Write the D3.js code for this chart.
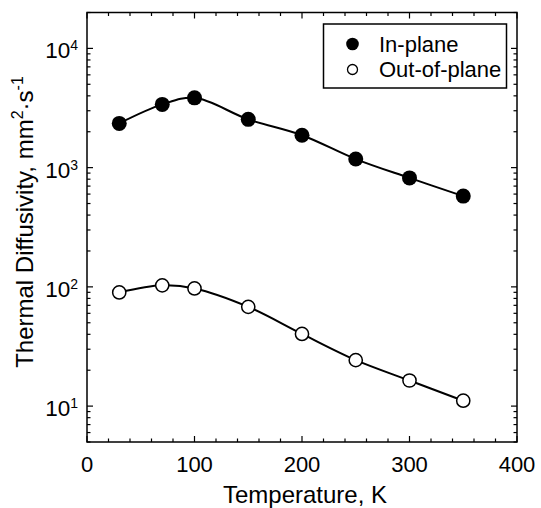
<!DOCTYPE html>
<html>
<head>
<meta charset="utf-8">
<script src="https://cdn.jsdelivr.net/npm/d3@7/dist/d3.min.js"></script>
<style>
  html, body { margin: 0; padding: 0; background: #fff; }
  svg { display: block; font-family: "Liberation Sans", Arial, Helvetica, sans-serif; }
</style>
</head>
<body>
<svg id="chart" width="541" height="508"></svg>
<script>
// Thermal diffusivity vs temperature, in-plane and out-of-plane
const temperature = [30, 70, 100, 150, 200, 250, 300, 350];
const inPlane = [2350, 3390, 3850, 2540, 1870, 1180, 820, 577];
const outOfPlane = [89.8, 103, 97, 68, 40.3, 24.3, 16.4, 11.1];

const xMajorTicks = [0, 100, 200, 300, 400];
const xMinorTicks = d3.range(0, 401, 20);
const yMajorExponents = [1, 2, 3, 4];
const seriesNames = ["In-plane", "Out-of-plane"];

const svg = d3.select("#chart");
const plot = { left: 87, right: 517, top: 12.5, bottom: 442 };

const x = d3.scaleLinear().domain([0, 400]).range([plot.left, plot.right]);
const y = d3.scaleLog().domain([5, 20000]).range([plot.bottom, plot.top]);

// Frame
svg.append("rect")
  .attr("x", plot.left).attr("y", plot.top)
  .attr("width", plot.right - plot.left).attr("height", plot.bottom - plot.top)
  .attr("fill", "none").attr("stroke", "#000").attr("stroke-width", 1.5);

const ticks = svg.append("g").attr("stroke", "#000").attr("stroke-width", 1.2);

// x ticks (bottom + top, pointing inward)
xMinorTicks.forEach(v => {
  const len = xMajorTicks.includes(v) ? 6 : 3.5;
  ticks.append("line").attr("x1", x(v)).attr("x2", x(v))
    .attr("y1", plot.bottom).attr("y2", plot.bottom - len);
  ticks.append("line").attr("x1", x(v)).attr("x2", x(v))
    .attr("y1", plot.top).attr("y2", plot.top + len);
});

// y ticks (left + right, pointing inward)
y.ticks().forEach(v => {
  const major = yMajorExponents.some(e => Math.abs(Math.pow(10, e) - v) < 1e-6);
  const len = major ? 6 : 3.5;
  ticks.append("line").attr("x1", plot.left).attr("x2", plot.left + len)
    .attr("y1", y(v)).attr("y2", y(v));
  ticks.append("line").attr("x1", plot.right).attr("x2", plot.right - len)
    .attr("y1", y(v)).attr("y2", y(v));
});

// x tick labels
svg.append("g").selectAll("text").data(xMajorTicks).join("text")
  .attr("x", d => x(d)).attr("y", 472)
  .attr("text-anchor", "middle").attr("font-size", 22)
  .text(d => d);

// y tick labels as powers of ten
const yl = svg.append("g").selectAll("text").data(yMajorExponents).join("text")
  .attr("x", 78).attr("y", d => y(Math.pow(10, d)) + 10)
  .attr("text-anchor", "end").attr("font-size", 22.5);
yl.append("tspan").text("10");
yl.append("tspan").attr("font-size", 14).attr("dy", -8).text(d => d);

// Axis titles
svg.append("text")
  .attr("x", 305).attr("y", 503)
  .attr("text-anchor", "middle").attr("font-size", 24)
  .text("Temperature, K");

const yt = svg.append("text")
  .attr("transform", "translate(33,222) rotate(-90)")
  .attr("text-anchor", "middle").attr("font-size", 24);
yt.append("tspan").text("Thermal Diffusivity, mm");
yt.append("tspan").attr("font-size", 16).attr("dy", -10).text("2");
yt.append("tspan").attr("dy", 10).text("·s");
yt.append("tspan").attr("font-size", 16).attr("dy", -10).text("-1");

// Curves through the data
const line = d3.line()
  .x(d => x(d[0])).y(d => y(d[1]))
  .curve(d3.curveCatmullRom.alpha(0.5));

const inPts = temperature.map((t, i) => [t, inPlane[i]]);
const outPts = temperature.map((t, i) => [t, outOfPlane[i]]);

svg.append("path").attr("d", line(inPts))
  .attr("fill", "none").attr("stroke", "#000").attr("stroke-width", 2);
svg.append("path").attr("d", line(outPts))
  .attr("fill", "none").attr("stroke", "#000").attr("stroke-width", 2);

// Markers
svg.append("g").selectAll("circle").data(inPts).join("circle")
  .attr("cx", d => x(d[0])).attr("cy", d => y(d[1]))
  .attr("r", 7.5).attr("fill", "#000");
svg.append("g").selectAll("circle").data(outPts).join("circle")
  .attr("cx", d => x(d[0])).attr("cy", d => y(d[1]))
  .attr("r", 6.6).attr("fill", "#fff").attr("stroke", "#000").attr("stroke-width", 1.5);

// Legend
const lg = svg.append("g");
lg.append("rect").attr("x", 323.5).attr("y", 24).attr("width", 183).attr("height", 64)
  .attr("fill", "#fff").attr("stroke", "#000").attr("stroke-width", 1.5);
lg.append("circle").attr("cx", 352.5).attr("cy", 44).attr("r", 6.3).attr("fill", "#000");
lg.append("circle").attr("cx", 352.5).attr("cy", 69.5).attr("r", 5)
  .attr("fill", "#fff").attr("stroke", "#000").attr("stroke-width", 1.3);
lg.append("text").attr("x", 379).attr("y", 52).attr("font-size", 22).text(seriesNames[0]);
lg.append("text").attr("x", 379).attr("y", 77).attr("font-size", 22).text(seriesNames[1]);
</script>
</body>
</html>
